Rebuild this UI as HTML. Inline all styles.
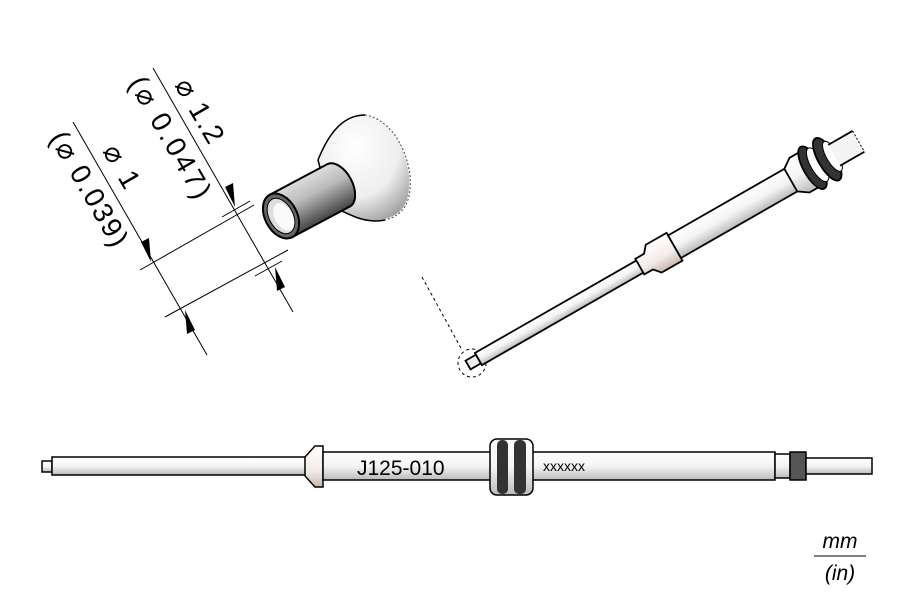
<!DOCTYPE html>
<html><head><meta charset="utf-8"><style>
html,body{margin:0;padding:0;background:#fff;}
svg{display:block;font-family:"Liberation Sans",sans-serif;}
</style></head><body>
<svg width="900" height="600" viewBox="0 0 900 600" xmlns="http://www.w3.org/2000/svg">
<defs>
<linearGradient id="gv" x1="0" y1="0" x2="0" y2="1">
<stop offset="0" stop-color="#fff"/><stop offset="0.5" stop-color="#f4f4f4"/><stop offset="1" stop-color="#bbb"/></linearGradient>
<linearGradient id="gc" x1="0" y1="0" x2="0" y2="1">
<stop offset="0" stop-color="#fff"/><stop offset="0.6" stop-color="#f3ebe6"/><stop offset="1" stop-color="#c9b8ae"/></linearGradient>
<linearGradient id="gcyl" x1="0" y1="0" x2="0" y2="1">
<stop offset="0" stop-color="#ddd"/><stop offset="0.4" stop-color="#bbb"/><stop offset="1" stop-color="#444"/></linearGradient>
<radialGradient id="gb" cx="0.4" cy="0.3" r="0.8">
<stop offset="0" stop-color="#fff"/><stop offset="0.6" stop-color="#eee"/><stop offset="1" stop-color="#999"/></radialGradient>
</defs>

<path d="M318,160 C330,130 345,115 365,115 C385,118 405,140 410,175 C412,200 405,215 385,220 C365,224 350,215 330,205 Z" fill="url(#gb)" stroke="#000" stroke-width="1.5"/>
<path d="M365,115 C385,118 405,140 410,175 C412,200 405,215 385,220" fill="none" stroke="#fff" stroke-width="2"/>
<path d="M365,115 C385,118 405,140 410,175 C412,200 405,215 385,220" fill="none" stroke="#444" stroke-width="1" stroke-dasharray="2,2"/>
<g transform="translate(281,216) rotate(-28)">
<path d="M0,-24 L65,-24 A14,24 0 0 1 65,24 L0,24 Z" fill="url(#gcyl)" stroke="#000" stroke-width="2"/>
<ellipse cx="0" cy="0" rx="16" ry="24" fill="#666" stroke="#000" stroke-width="2"/>
<ellipse cx="0" cy="0" rx="12" ry="19" fill="#ddd" stroke="#000" stroke-width="1"/>
<ellipse cx="2" cy="2" rx="9" ry="15" fill="#fafafa"/>
</g>

<g stroke="#000" stroke-width="1" fill="none">
<line x1="73" y1="122" x2="207" y2="355"/>
<line x1="153" y1="68" x2="293" y2="312"/>
<line x1="140" y1="270" x2="254" y2="205"/>
<line x1="165" y1="317" x2="288" y2="250"/>
<line x1="222" y1="217" x2="250" y2="201"/>
<line x1="255" y1="276" x2="282" y2="261"/>
</g>
<g fill="#000">
<polygon points="151,262 141,242 149,238"/>
<polygon points="185,310 195,330 187,334"/>
<polygon points="235,207 225,187 233,183"/>
<polygon points="275,267 285,287 277,291"/>
</g>
<g font-size="28" fill="#000">
<text transform="translate(128,83) rotate(60)" textLength="136" lengthAdjust="spacing">(⌀ 0.047)</text>
<text transform="translate(174,85) rotate(60)" textLength="70" lengthAdjust="spacing">⌀ 1.2</text>
<text transform="translate(49,138) rotate(60)" textLength="128" lengthAdjust="spacing">(⌀ 0.039)</text>
<text transform="translate(102,151) rotate(60)" textLength="46" lengthAdjust="spacing">⌀ 1</text>
</g>

<line x1="422" y1="277" x2="462" y2="350" stroke="#000" stroke-width="1" stroke-dasharray="3,3"/>
<circle cx="472" cy="363" r="14" fill="none" stroke="#000" stroke-width="1" stroke-dasharray="3,3"/>

<g transform="translate(468,365) rotate(-29.8)" stroke="#000" stroke-width="1.8">
<rect x="0" y="-5" width="12" height="10" fill="#eee"/>
<rect x="12" y="-7" width="190" height="14" fill="url(#gv)"/>
<path d="M198,-9 L208,-9 L214,-16 L238,-16 L238,16 L214,16 L208,9 L198,9 Z" fill="url(#gc)"/>
<rect x="238" y="-13" width="135" height="26" fill="url(#gv)"/>
<path d="M372,-13 L382,-20 L392,-20 L392,20 L382,20 L372,13 Z" fill="url(#gv)"/>
<ellipse cx="397" cy="0" rx="9" ry="24" fill="#333"/>
<ellipse cx="403" cy="0" rx="7" ry="19" fill="#fff" stroke-width="1"/>
<ellipse cx="414" cy="0" rx="9" ry="24" fill="#333"/>
<ellipse cx="420" cy="0" rx="6" ry="17" fill="#fff" stroke-width="1"/>
<rect x="422" y="-12" width="28" height="24" fill="#f4f4f4" stroke="none"/>
<path d="M422,-12 L450,-12 M422,12 L450,12" fill="none"/>
<line x1="450" y1="-12" x2="450" y2="12" stroke-width="1" stroke-dasharray="2,2"/>
</g>

<g stroke="#000" stroke-width="1.5">
<rect x="42" y="461" width="10" height="11" fill="url(#gv)"/>
<rect x="52" y="457" width="254" height="18" fill="url(#gv)"/>
<path d="M305,457 L315,446 L323,446 L323,487 L315,487 L305,476 Z" fill="url(#gc)"/>
<rect x="323" y="452" width="170" height="28" fill="url(#gv)"/>
<rect x="532" y="452" width="243" height="28" fill="url(#gv)"/>
<rect x="490" y="439" width="43" height="56" rx="7" fill="url(#gv)"/>
<rect x="497" y="440" width="11" height="54" rx="5" fill="#333" stroke="none"/>
<rect x="514" y="440" width="12" height="54" rx="5" fill="#333" stroke="none"/>
<rect x="775" y="454" width="15" height="24" fill="url(#gv)"/>
<rect x="790" y="452" width="16" height="28" fill="#555"/>
<rect x="806" y="458" width="66" height="16" fill="url(#gv)"/>
</g>
<text x="357" y="475" font-size="21" fill="#000">J125-010</text>
<text x="543" y="471" font-size="14" fill="#000">xxxxxx</text>

<text x="840" y="548" font-size="21" font-style="italic" text-anchor="middle">mm</text>
<line x1="814" y1="556" x2="866" y2="556" stroke="#000" stroke-width="1"/>
<text x="840" y="580" font-size="21" font-style="italic" text-anchor="middle">(in)</text>
</svg>
</body></html>
